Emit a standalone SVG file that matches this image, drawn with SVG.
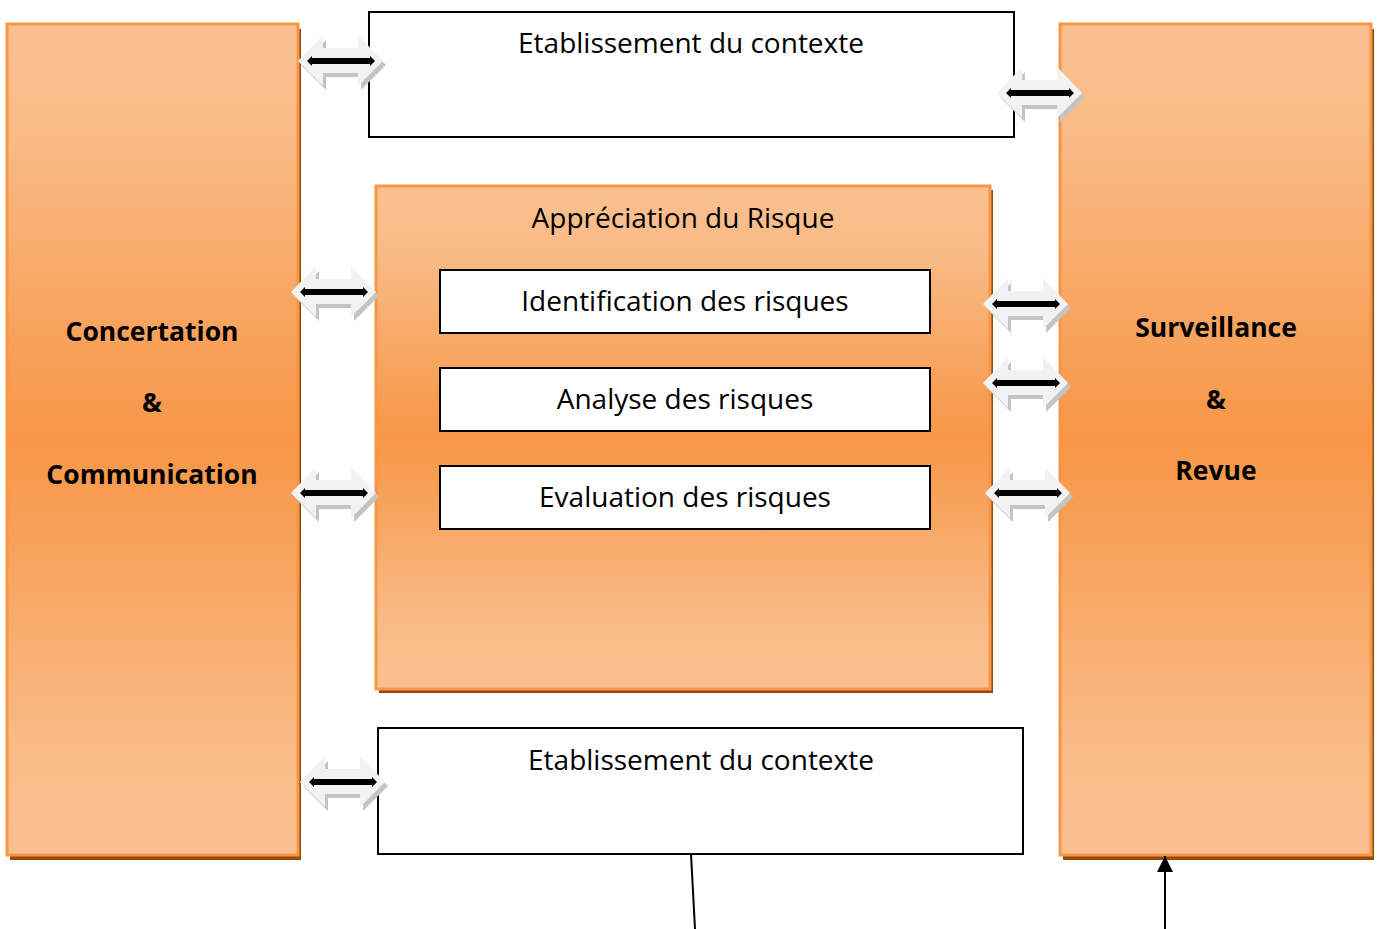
<svg xmlns="http://www.w3.org/2000/svg" width="1377" height="929" viewBox="0 0 1377 929">
<defs>
<linearGradient id="og" x1="0" y1="0" x2="0" y2="1">
<stop offset="0" stop-color="#FAC090"/>
<stop offset="0.12" stop-color="#F9BC88"/>
<stop offset="0.5" stop-color="#F79646"/>
<stop offset="0.88" stop-color="#F9BC88"/>
<stop offset="1" stop-color="#FAC090"/>
</linearGradient>
<g id="dbl">
<polygon points="-40,4 -15,-21 -15,-8 20,-8 20,-21 45,4 20,29 20,16 -15,16 -15,29" fill="#C4C4C4"/>
<polygon points="-43,0 -18,-26 -18,-13 17,-13 17,-26 42,0 17,25 17,12 -18,12 -18,25" fill="#F2F2F2"/>
<polygon points="-34,0 -29,-5 -29,-3 29,-3 29,-5 34,0 29,5 29,3 -29,3 -29,5" fill="#000"/>
</g>
<marker id="ah" viewBox="0 0 10 10" refX="10" refY="5" markerWidth="16" markerHeight="16" markerUnits="userSpaceOnUse" orient="auto">
<path d="M0,0 L10,5 L0,10 z" fill="#000"/>
</marker>
</defs>
<style>
.ob{fill:url(#og);stroke:#F79646;stroke-width:3}
.sh{fill:#984807}
.wb{fill:#fff;stroke:#000;stroke-width:2}
.t{font-family:"Open Sans","Liberation Sans",Arial,sans-serif;font-size:28px;fill:#000;text-anchor:middle}
.b{font-family:"Open Sans","Liberation Sans",Arial,sans-serif;font-size:26.5px;font-weight:bold;fill:#000;text-anchor:middle}
</style>
<rect width="1377" height="929" fill="#fff"/>

<g id="concertation">
<rect class="sh" x="10" y="29" width="291" height="831"/>
<rect class="ob" x="7" y="24" width="291" height="831"/>
<text class="b" x="152" y="341">Concertation</text>
<text class="b" x="152" y="412">&amp;</text>
<text class="b" x="152" y="484">Communication</text>
</g>

<g id="surveillance">
<rect class="sh" x="1063" y="29" width="311" height="831"/>
<rect class="ob" x="1060" y="24" width="311" height="831"/>
<text class="b" x="1216" y="337">Surveillance</text>
<text class="b" x="1216" y="409">&amp;</text>
<text class="b" x="1216" y="480">Revue</text>
</g>

<g id="contexte-top">
<rect class="wb" x="369" y="12" width="645" height="125"/>
<text class="t" x="691" y="53">Etablissement du contexte</text>
</g>

<g id="appreciation">
<rect class="sh" x="379" y="190" width="614" height="503"/>
<rect class="ob" x="376" y="186" width="614" height="503"/>
<text class="t" x="683" y="228">Appréciation du Risque</text>
</g>

<g id="identification">
<rect class="wb" x="440" y="270" width="490" height="63"/>
<text class="t" x="685" y="311">Identification des risques</text>
</g>

<g id="analyse">
<rect class="wb" x="440" y="368" width="490" height="63"/>
<text class="t" x="685" y="409">Analyse des risques</text>
</g>

<g id="evaluation">
<rect class="wb" x="440" y="466" width="490" height="63"/>
<text class="t" x="685" y="507">Evaluation des risques</text>
</g>

<g id="contexte-bottom">
<rect class="wb" x="378" y="728" width="645" height="126"/>
<text class="t" x="701" y="770">Etablissement du contexte</text>
</g>

<g id="connectors">
<use href="#dbl" x="341" y="61"/>
<use href="#dbl" x="1040" y="93"/>
<use href="#dbl" x="334" y="292"/>
<use href="#dbl" x="334" y="493"/>
<use href="#dbl" x="1026" y="304"/>
<use href="#dbl" x="1026" y="383"/>
<use href="#dbl" x="1028" y="493"/>
<use href="#dbl" x="343" y="782"/>
<line x1="691" y1="854" x2="695" y2="929" stroke="#000" stroke-width="2"/>
<line x1="1165" y1="929" x2="1165" y2="856" stroke="#000" stroke-width="2" marker-end="url(#ah)"/>
</g>
</svg>
